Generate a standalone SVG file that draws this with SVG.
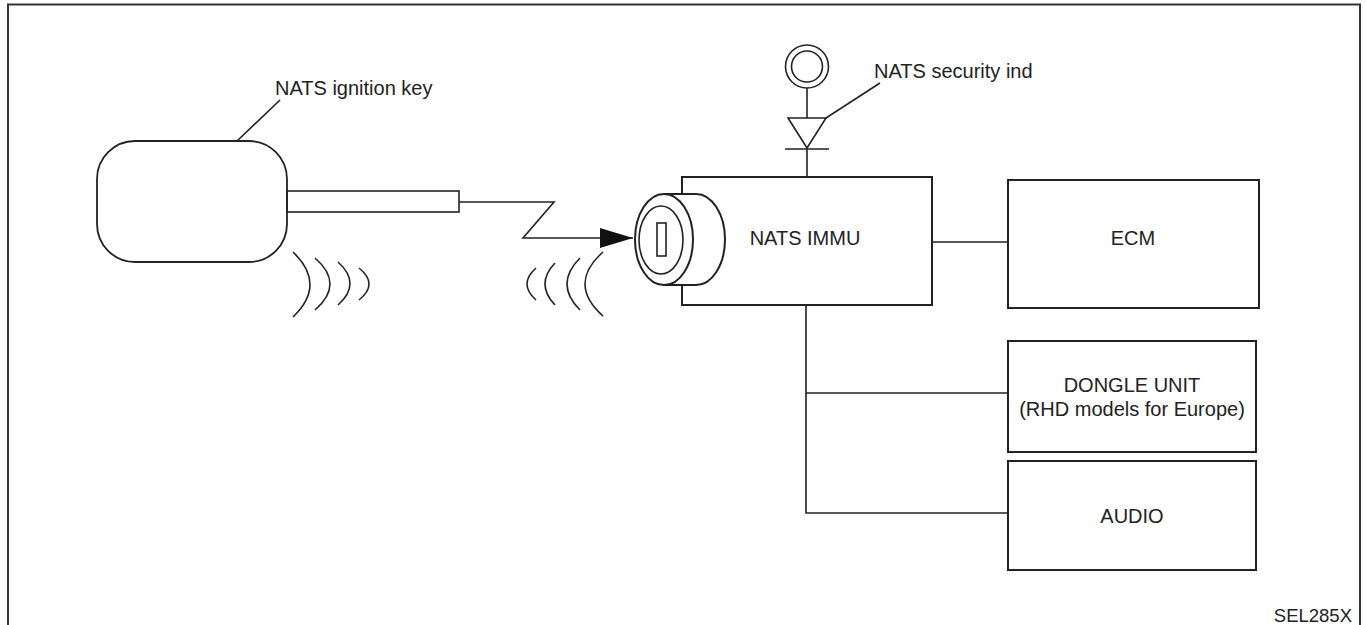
<svg xmlns="http://www.w3.org/2000/svg" width="1366" height="625" viewBox="0 0 1366 625">
  <style>
    .ln { fill: none; stroke: #222; stroke-width: 1.6; }
    .box { fill: #fff; stroke: #222; stroke-width: 2; }
    .lbl { font-family: "Liberation Sans", Arial, sans-serif; font-size: 20px; fill: #222; }
    .mid { text-anchor: middle; }
  </style>
  <defs>
    <marker id="arrow" markerWidth="34" markerHeight="20" refX="33" refY="10" markerUnits="userSpaceOnUse" orient="auto">
      <path d="M0,0 L33,10 L0,20 Z" fill="#111"/>
    </marker>
  </defs>

  <rect width="1366" height="625" fill="#fff"/>
  <!-- outer frame (open at the bottom) -->
  <path d="M8,630 V4.5 H1360 V630" fill="none" stroke="#333" stroke-width="2"/>

  <!-- connectors -->
  <g id="connectors">
    <path class="ln" d="M459,202 H554 L523,238 H633" marker-end="url(#arrow)"/>
    <path class="ln" d="M806,305 V513 H1008"/>
    <path class="ln" d="M806,393 H1008"/>
    <path class="ln" d="M932,242 H1008"/>
  </g>

  <!-- NATS ignition key -->
  <g id="ignition-key">
    <text class="lbl" x="275" y="95">NATS ignition key</text>
    <path class="ln" d="M280,100 L237,141"/>
    <rect class="ln" x="97" y="141" width="190" height="121" rx="38" ry="38" style="stroke-width:1.8"/>
    <rect class="ln" x="287" y="191" width="172" height="21"/>
    <!-- radiated signal -->
    <path class="ln" d="M293,252 Q327,284.5 293,317"/>
    <path class="ln" d="M315,258 Q345,284 315,310"/>
    <path class="ln" d="M338,262 Q362,283.5 338,305"/>
    <path class="ln" d="M359,268 Q379,284 359,300"/>
  </g>

  <!-- NATS IMMU with key cylinder -->
  <g id="nats-immu">
    <rect class="box" x="682" y="177" width="250" height="128"/>
    <text class="lbl mid" x="805" y="245">NATS IMMU</text>
    <!-- cylinder body -->
    <path class="box" d="M664,194 H696 A29,45.5 0 0 1 696,285 H664 Z"/>
    <ellipse class="box" cx="664" cy="239.5" rx="29" ry="45.5"/>
    <ellipse class="ln" cx="661" cy="240" rx="22" ry="34"/>
    <rect class="ln" x="657" y="223" width="9" height="33"/>
    <!-- received signal -->
    <path class="ln" d="M536,268 Q518,284 536,300"/>
    <path class="ln" d="M555,263 Q535,284 555,305"/>
    <path class="ln" d="M580,258 Q554,284 580,310"/>
    <path class="ln" d="M603,252 Q567,284 603,316"/>
  </g>

  <!-- NATS security indicator -->
  <g id="security-ind">
    <circle class="ln" cx="807" cy="66.5" r="21.5"/>
    <circle class="ln" cx="807" cy="66.5" r="15.5"/>
    <path class="ln" d="M807,88 V118"/>
    <path class="ln" d="M788,118 H826 L807,148 Z"/>
    <path class="ln" d="M785,149 H829 M807,149 V177"/>
    <path class="ln" d="M826,118 L880,83"/>
    <text class="lbl" x="874" y="78">NATS security ind</text>
  </g>

  <g id="ecm">
    <rect class="box" x="1008" y="180" width="251" height="128"/>
    <text class="lbl mid" x="1133" y="245">ECM</text>
  </g>

  <g id="dongle-unit">
    <rect class="box" x="1008" y="341" width="248" height="111"/>
    <text class="lbl mid" x="1132" y="392">DONGLE UNIT</text>
    <text class="lbl mid" x="1132" y="416">(RHD models for Europe)</text>
  </g>

  <g id="audio">
    <rect class="box" x="1008" y="461" width="248" height="109"/>
    <text class="lbl mid" x="1132" y="523">AUDIO</text>
  </g>

  <text class="lbl" x="1352" y="622" text-anchor="end" style="font-size:18.5px">SEL285X</text>
</svg>
